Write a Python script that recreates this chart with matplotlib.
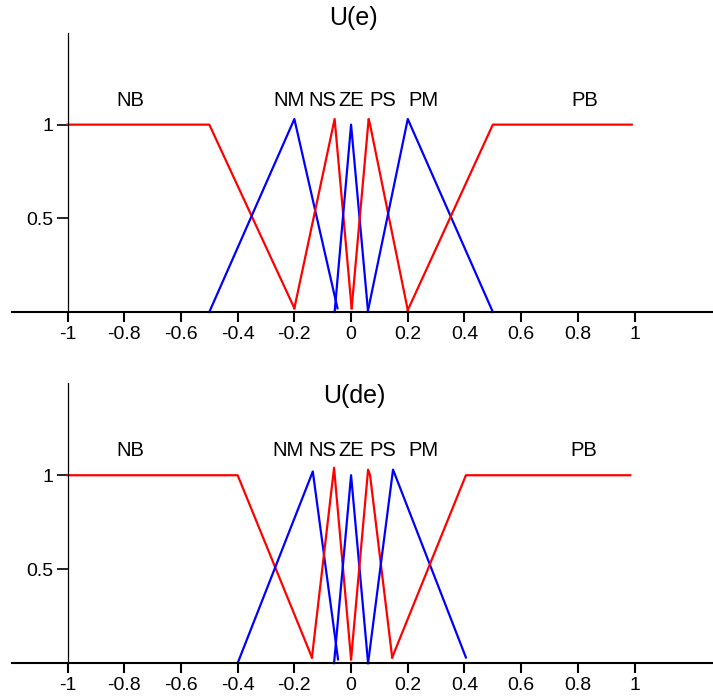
import numpy as np
import matplotlib.pyplot as plt

plt.rcParams['font.family'] = ['Liberation Sans', 'DejaVu Sans']
plt.rcParams['axes.unicode_minus'] = False

# fuzzy sets
names = ['NB', 'NM', 'NS', 'ZE', 'PS', 'PM', 'PB']
colors = ['red', 'blue', 'red', 'blue', 'red', 'blue', 'red']

# U(e)
e_x = [[-1, -0.5, -0.2],
       [-0.5, -0.2, -0.048],
       [-0.2, -0.058, 0.002],
       [-0.058, 0, 0.06],
       [0.002, 0.062, 0.067, 0.2],
       [0.06, 0.2, 0.5],
       [0.2, 0.5, 0.99]]
e_y = [[1, 1, 0.02],
       [0, 1.03, 0.02],
       [0.02, 1.03, 0.02],
       [0, 1.0, 0],
       [0.02, 1.03, 1.0, 0.01],
       [0.01, 1.03, 0],
       [0.01, 1, 1]]
e_label_x = [-0.78, -0.22, -0.1, 0.0, 0.11, 0.256, 0.824]

# U(de)
de_x = [[-1, -0.4, -0.138],
        [-0.4, -0.135, -0.046],
        [-0.138, -0.06, 0.0],
        [-0.06, 0, 0.06],
        [0.0, 0.06, 0.067, 0.145],
        [0.06, 0.148, 0.405],
        [0.145, 0.405, 0.985]]
de_y = [[1, 1, 0.03],
        [0, 1.02, 0.02],
        [0.03, 1.04, 0.02],
        [0, 1.0, 0],
        [0.02, 1.03, 1.0, 0.03],
        [0, 1.03, 0.03],
        [0.03, 1.0, 1.0]]
de_label_x = [-0.78, -0.224, -0.1, 0.0, 0.11, 0.256, 0.82]

xticks = [-1, -0.8, -0.6, -0.4, -0.2, 0, 0.2, 0.4, 0.6, 0.8, 1]
xticklabels = ['-1', '-0.8', '-0.6', '-0.4', '-0.2', '0', '0.2', '0.4', '0.6', '0.8', '1']
yticks = [0.5, 1]
yticklabels = ['0.5', '1']

fig = plt.figure(figsize=(7.13, 6.98), dpi=100)
ax1 = fig.add_axes([0.0168, 0.553, 0.9818, 0.40])
ax2 = fig.add_axes([0.0168, 0.050, 0.9818, 0.401])


def draw(ax, xs, ys, label_x, title, title_y):
    for x, y, c in zip(xs, ys, colors):
        ax.plot(x, y, color=c, lw=1.6, clip_on=False)
    for n, lx in zip(names, label_x):
        ax.text(lx, 1.13, n, ha='center', va='center', fontsize=14.5)
    ax.text(0.01, title_y, title, ha='center', va='center', fontsize=18, clip_on=False)
    ax.set_xlim(-1.196, 1.273)
    ax.set_ylim(0, 1.49)
    ax.spines['top'].set_visible(False)
    ax.spines['right'].set_visible(False)
    ax.spines['left'].set_position(('data', -1))
    ax.spines['left'].set_linewidth(0.9)
    ax.spines['bottom'].set_linewidth(1.5)
    ax.set_xticks(xticks)
    ax.set_xticklabels(xticklabels, fontsize=14)
    ax.set_yticks(yticks)
    ax.set_yticklabels(yticklabels, fontsize=14)
    ax.tick_params(axis='x', length=7, width=1.5, pad=3)
    ax.tick_params(axis='y', length=8, width=1.2, pad=2)
    ax.patch.set_visible(False)


draw(ax1, e_x, e_y, e_label_x, 'U(e)', 1.57)
draw(ax2, de_x, de_y, de_label_x, 'U(de)', 1.42)

fig.savefig('out.png', dpi=100)
